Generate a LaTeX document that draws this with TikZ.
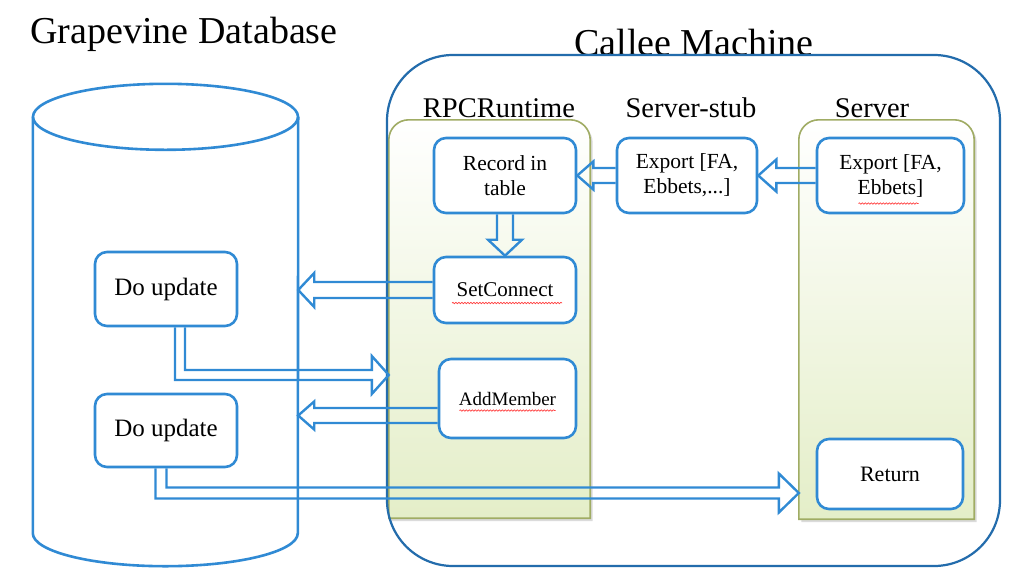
\documentclass[tikz,border=0pt]{standalone}
\usepackage{fontspec}
\setmainfont{Liberation Serif}
\usetikzlibrary{calc,decorations.pathmorphing}
\definecolor{boxblue}{RGB}{48,138,212}
\definecolor{callblue}{RGB}{35,108,172}
\definecolor{panelline}{RGB}{160,172,100}
\definecolor{panelfill}{RGB}{228,238,200}
\tikzset{
  bx/.style={draw=boxblue, line width=2.6pt, fill=white, rounded corners=12pt, align=center, inner sep=0pt, font=\fontsize{21.5}{25}\selectfont},
  blk/.style={draw=boxblue, line width=2.4pt, line join=miter},
  title/.style={font=\fontsize{38}{40}\selectfont},
  lbl/.style={font=\fontsize{28.5}{30}\selectfont},
  pnl/.style={draw=panelline, line width=1.6pt, top color=white, bottom color=panelfill},
  dbline/.style={draw=boxblue, line width=2.6pt},
  squig/.style={draw=red!75!white, line width=0.7pt, decorate, decoration={snake, amplitude=0.7pt, segment length=3pt}},
  area/.style={draw=none, inner sep=0pt}
}
\newcommand\harrow[5]{\draw[blk] let \p1=(#1), \p2=(#2), \n1={sign(\x2-\x1)} in
  ({\x1},{\y1+#3}) -- ({\x2-(\n1)*(#5)},{\y1+#3}) -- ({\x2-(\n1)*(#5)},{\y1+#4}) -- ({\x2},{\y1})
  -- ({\x2-(\n1)*(#5)},{\y1-#4}) -- ({\x2-(\n1)*(#5)},{\y1-#3}) -- ({\x1},{\y1-#3});}
\newcommand\varrow[5]{\draw[blk] let \p1=(#1), \p2=(#2), \n1={sign(\y2-\y1)} in
  ({\x1+#3},{\y1}) -- ({\x1+#3},{\y2-(\n1)*(#5)}) -- ({\x1+#4},{\y2-(\n1)*(#5)}) -- ({\x1},{\y2})
  -- ({\x1-#4},{\y2-(\n1)*(#5)}) -- ({\x1-#3},{\y2-(\n1)*(#5)}) -- ({\x1-#3},{\y1});}
\newcommand\barrow[5]{\draw[blk] let \p1=(#1), \p2=(#2) in
  ({\x1-#3},{\y1}) -- ({\x1-#3},{\y2-#3}) -- ({\x2-#5},{\y2-#3}) -- ({\x2-#5},{\y2-#4}) -- ({\x2},{\y2})
  -- ({\x2-#5},{\y2+#4}) -- ({\x2-#5},{\y2+#3}) -- ({\x1+#3},{\y2+#3}) -- ({\x1+#3},{\y1});}
\newcommand\panelshape[1]{(#1.south west) -- ([yshift=-20pt]#1.north west)
  arc[start angle=180,end angle=90,radius=20pt] -- ([xshift=-20pt]#1.north east)
  arc[start angle=90,end angle=0,radius=20pt] -- (#1.south east) -- cycle}
\begin{document}
\begin{tikzpicture}[x=1pt,y=-1pt]
\fill[white] (0,0) rectangle (1026,574);
\useasboundingbox (0,0) rectangle (1026,574);

% titles
\node[title] (gtitle) at (184,34) {Grapevine Database};
\node[title] (ctitle) at (694,42) {Callee Machine};

% database cylinder
\node[area, minimum width=265pt, minimum height=416pt] (db) at (165.5,325) {};
\draw[dbline] (db.north west) -- (db.south west)
  arc[start angle=180,end angle=360,x radius=132.5pt,y radius=33pt] -- (db.north east);
\draw[dbline] (db.north) ellipse [x radius=132.5pt,y radius=33pt];

% panels
\node[area, minimum width=201pt, minimum height=398pt] (rpc) at (489.5,319) {};
\node[area, minimum width=175pt, minimum height=399pt] (srvp) at (886.5,319.5) {};
\fill[black!14, transform canvas={xshift=2.5pt,yshift=-3pt}] \panelshape{rpc};
\fill[black!14, transform canvas={xshift=2.5pt,yshift=-3pt}] \panelshape{srvp};
\path[pnl] \panelshape{rpc};
\path[pnl] \panelshape{srvp};

% callee machine outline
\node[area, draw=callblue, line width=2.2pt, rounded corners=66pt,
      minimum width=613pt, minimum height=511pt] (callee) at (693.5,310.5) {};

% column labels
\node[lbl] (lrpc) at (499,108) {RPCRuntime};
\node[lbl] (lstub) at (691,108) {Server-stub};
\node[lbl] (lsrv) at (872,108) {Server};

% boxes
\node[bx, minimum width=142pt, minimum height=75pt] (rec) at (505,175.5) {Record in\\table};
\node[bx, minimum width=140pt, minimum height=75pt] (stub) at (687,175.5) {Export [FA,\\Ebbets,...]};
\node[bx, minimum width=147pt, minimum height=75pt] (srv) at (890.5,175.5) {Export [FA,\\Ebbets]};
\node[bx, minimum width=142pt, minimum height=66pt, font=\fontsize{21}{24}\selectfont] (setc) at (505,290) {SetConnect};
\node[bx, minimum width=137pt, minimum height=79pt, font=\fontsize{19}{22}\selectfont] (addm) at (507.5,398.5) {AddMember};
\node[bx, minimum width=146pt, minimum height=70pt, font=\fontsize{22}{24}\selectfont] (ret) at (890,474) {Return};
\node[bx, minimum width=142pt, minimum height=74pt, font=\fontsize{25}{28}\selectfont] (du1) at (166,289) {Do update};
\node[bx, minimum width=142pt, minimum height=73pt, font=\fontsize{25}{28}\selectfont] (du2) at (166,430.5) {Do update};

% spelling squiggles
\draw[squig] ([xshift=-32pt,yshift=-28pt]srv.center) -- ([xshift=28pt,yshift=-28pt]srv.center);
\draw[squig] ([xshift=-53pt,yshift=-13pt]setc.center) -- ([xshift=57pt,yshift=-13pt]setc.center);
\draw[squig] ([xshift=-48pt,yshift=-12pt]addm.center) -- ([xshift=48pt,yshift=-12pt]addm.center);

% arrows
\coordinate (k1) at (0,375);
\coordinate (k2) at (0,493);
\harrow{srv.west}{stub.east}{7.5pt}{16pt}{18pt}
\harrow{stub.west}{rec.east}{7.5pt}{14pt}{16pt}
\varrow{rec.south}{setc.north}{8pt}{17pt}{16pt}
\harrow{setc.west}{db.east}{8pt}{17pt}{16pt}
\harrow{[yshift=-17pt]addm.west}{db.east}{7.5pt}{14pt}{16pt}
\barrow{[xshift=14pt]du1.south}{rpc.west |- k1}{5pt}{19pt}{17pt}
\barrow{[xshift=-5pt]du2.south}{srvp.west |- k2}{5.5pt}{19.5pt}{20pt}
\end{tikzpicture}
\end{document}
